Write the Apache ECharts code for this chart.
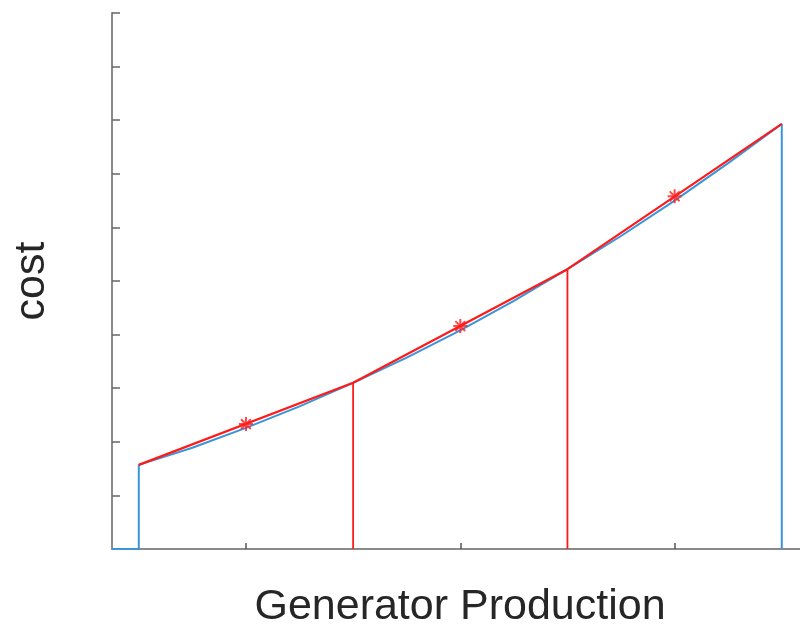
<!DOCTYPE html>
<html>
<head>
<meta charset="utf-8">
<script src="https://cdn.jsdelivr.net/npm/echarts@6/dist/echarts.min.js"></script>
<style>html,body{margin:0;padding:0;background:#fff}#c{width:800px;height:632px}</style>
</head>
<body>
<div id="c"></div>
<script>
// Blue cost curve (generation, cost) including closing edges
const curveX = [0.75, 1, 1, 1.5, 2, 2.5, 3, 3.5, 4, 4.5, 5, 5.5, 6, 6.5, 7, 7];
const curveY = [0, 0, 1.57, 1.89, 2.26, 2.66, 3.10, 3.57, 4.08, 4.63, 5.22, 5.84, 6.50, 7.20, 7.93, 0];
// Red piecewise-linear approximation breakpoints
const breakX = [1, 3, 5, 7];
const breakY = [1.57, 3.10, 5.22, 7.93];
// Red vertical separators
const sepX = [3, 5];
const sepY = [3.10, 5.22];
// Red star markers (segment midpoints)
const starX = [2, 4, 6];
const starY = [2.33, 4.16, 6.58];
// Axis ticks
const xTicks = [2, 4, 6];

const chart = echarts.init(document.getElementById('c'), null, {renderer: 'canvas'});
const axisColor = '#8a8a8a';
const textColor = '#262626';
const font = 'Liberation Sans, Arial, sans-serif';

const series = [];
series.push({
  type: 'line', data: curveX.map((x, i) => [x, curveY[i]]),
  symbol: 'none', lineStyle: {color: '#3a94da', width: 2}, z: 2, animation: false
});
series.push({
  type: 'line', data: breakX.map((x, i) => [x, breakY[i]]),
  symbol: 'none', lineStyle: {color: '#ff1a1a', width: 2.2}, z: 3, animation: false
});
sepX.forEach((x, i) => {
  series.push({
    type: 'line', data: [[x, 0], [x, sepY[i]]],
    symbol: 'none', lineStyle: {color: '#ff1a1a', width: 1.8}, z: 3, animation: false
  });
});
series.push({
  type: 'scatter', data: starX.map((x, i) => [x, starY[i]]),
  symbol: 'path://M0,-1L0,1M-1,0L1,0M-0.7,-0.7L0.7,0.7M-0.7,0.7L0.7,-0.7',
  symbolSize: 14,
  itemStyle: {color: 'transparent', borderColor: '#ff1a1a', borderWidth: 2},
  z: 4, animation: false
});

chart.setOption({
  animation: false,
  backgroundColor: '#fff',
  grid: {left: 112, top: 13, right: 0, bottom: 83, containLabel: false, outerBoundsMode: 'none'},
  xAxis: {
    type: 'value', min: 0.75, max: 7.17,
    name: 'Generator Production', nameLocation: 'middle', nameGap: 37,
    nameTextStyle: {fontFamily: font, fontSize: 43, color: textColor, padding: [0, 0, 0, 8]},
    axisLine: {show: true, onZero: false, lineStyle: {color: axisColor, width: 2}},
    axisTick: {show: true, inside: true, length: 6, customValues: xTicks, lineStyle: {color: '#555', width: 1.5}},
    axisLabel: {show: false},
    splitLine: {show: false}
  },
  yAxis: {
    type: 'value', min: 0, max: 10, interval: 1,
    name: 'cost', nameLocation: 'middle', nameGap: 58,
    nameTextStyle: {fontFamily: font, fontSize: 43, color: textColor},
    axisLine: {show: true, onZero: false, lineStyle: {color: axisColor, width: 2}},
    axisTick: {show: true, inside: true, length: 8, lineStyle: {color: '#666', width: 1.5}},
    axisLabel: {show: false},
    splitLine: {show: false}
  },
  series: series
});
</script>
</body>
</html>
